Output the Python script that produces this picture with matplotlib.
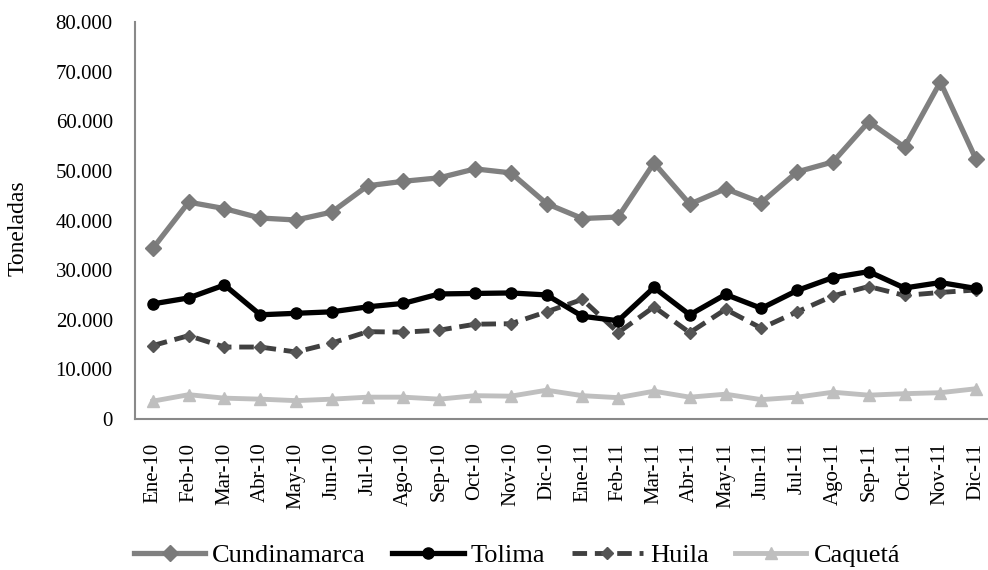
import matplotlib
matplotlib.use("Agg")
import matplotlib.pyplot as plt
from matplotlib.ticker import FuncFormatter, MultipleLocator

months = ["Ene-10", "Feb-10", "Mar-10", "Abr-10", "May-10", "Jun-10", "Jul-10", "Ago-10",
          "Sep-10", "Oct-10", "Nov-10", "Dic-10", "Ene-11", "Feb-11", "Mar-11", "Abr-11",
          "May-11", "Jun-11", "Jul-11", "Ago-11", "Sep-11", "Oct-11", "Nov-11", "Dic-11"]

cundinamarca = [34400, 43700, 42400, 40500, 40100, 41700, 47000, 47900, 48600, 50400, 49600, 43400,
                40400, 40700, 51600, 43300, 46400, 43600, 49800, 51800, 59900, 54800, 67900, 52300]
tolima = [23200, 24400, 27000, 21000, 21300, 21600, 22600, 23300, 25200, 25300, 25400, 25000,
          20700, 19800, 26500, 21000, 25100, 22300, 25900, 28500, 29700, 26400, 27500, 26300]
huila = [14800, 16800, 14500, 14500, 13500, 15300, 17600, 17500, 17900, 19100, 19200, 21600,
         24100, 17400, 22600, 17400, 22100, 18300, 21600, 24800, 26700, 24900, 25500, 26000]
caqueta = [3600, 4900, 4200, 4000, 3700, 4000, 4400, 4400, 4000, 4700, 4600, 5800,
           4700, 4300, 5600, 4400, 5000, 3900, 4400, 5400, 4800, 5100, 5300, 6100]

plt.rcParams['font.family'] = ['Liberation Serif', 'DejaVu Serif']

fig = plt.figure(figsize=(9.88, 5.70), dpi=100)
ax = fig.add_axes([135/988, 1 - 419/570, (994 - 135)/988, (419 - 22)/570])

x = list(range(len(months)))
l1, = ax.plot(x, cundinamarca, color="#808080", lw=3.8, marker="D", ms=8,
              mfc="#7a7a7a", mec="#7a7a7a", label="Cundinamarca", zorder=3)
l2, = ax.plot(x, tolima, color="#000000", lw=3.8, marker="o", ms=8,
              label="Tolima", zorder=4)
l3, = ax.plot(x, huila, color="#404040", lw=3.5, ls=(0, (3, 1.6)), marker="D", ms=6,
              mfc="#555555", mec="#555555", label="Huila", zorder=3)
l4, = ax.plot(x, caqueta, color="#bfbfbf", lw=3.5, marker="^", ms=9,
              label="Caquetá", zorder=3)

ax.set_xlim(-0.5, len(months) - 0.5)
ax.set_ylim(0, 80000)
ax.yaxis.set_major_locator(MultipleLocator(10000))
ax.yaxis.set_major_formatter(FuncFormatter(lambda v, p: f"{int(v):,}".replace(",", ".")))
ax.set_xticks(x)
ax.set_xticklabels(months, rotation=90, fontsize=15)
ax.tick_params(axis='y', labelsize=15, length=0, pad=16)
ax.tick_params(axis='x', length=0, pad=17)

for s in ["top", "right"]:
    ax.spines[s].set_visible(False)
for s in ["left", "bottom"]:
    ax.spines[s].set_color("#898989")
    ax.spines[s].set_linewidth(1.5)

fig.text(18/988, 1 - 228/570, "Toneladas", rotation=90, ha="center", va="center", fontsize=17)

leg = fig.legend(handles=[l1, l2, l3, l4], loc="center", bbox_to_anchor=(517/988, 1 - 555/570),
                 ncol=4, frameon=False, fontsize=19, handlelength=2.7, handletextpad=0.27,
                 columnspacing=1.0, borderaxespad=0, borderpad=0)

fig.savefig("out.png", dpi=100)
